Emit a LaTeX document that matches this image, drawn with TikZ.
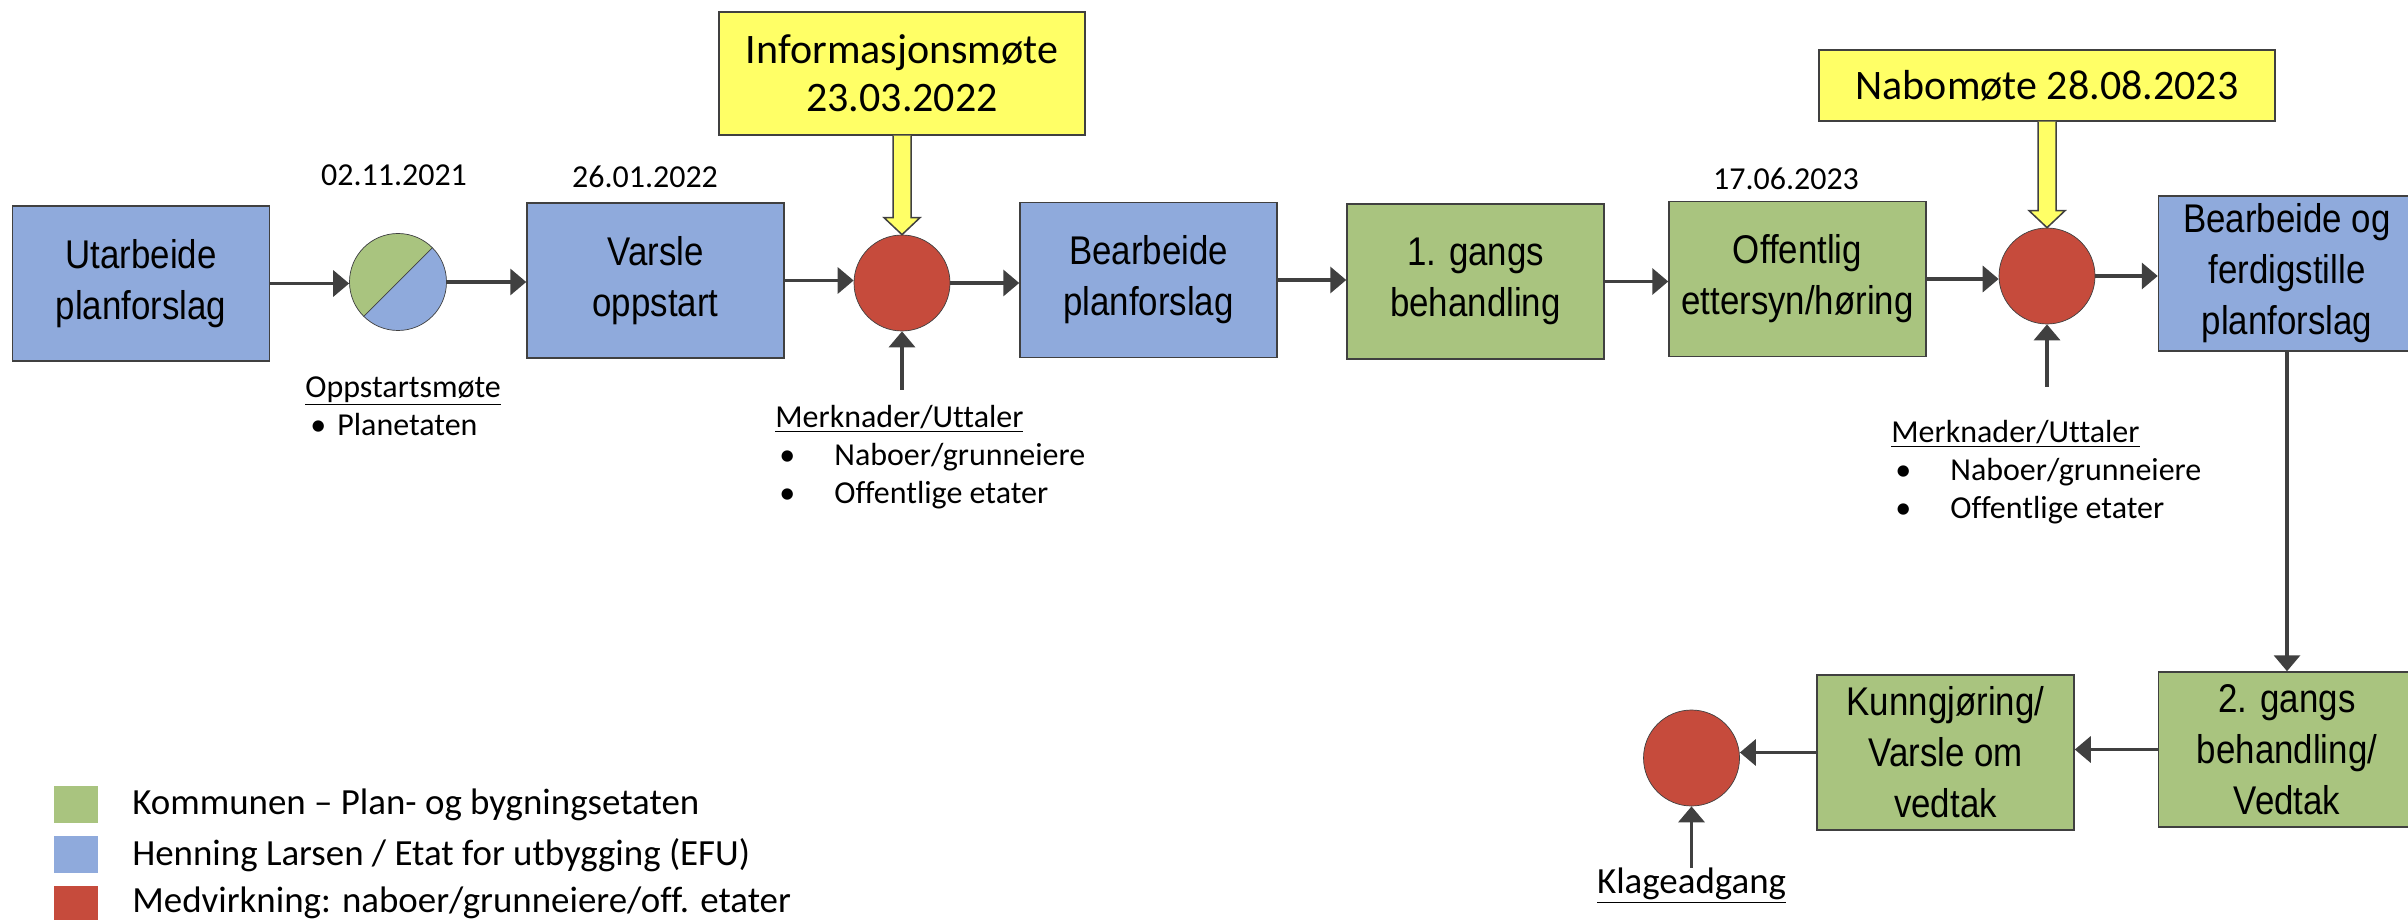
\documentclass[tikz,border=0pt]{standalone}
\usepackage{fontspec}
\setmainfont{Carlito}[Ligatures={TeX,NoCommon}]
\newfontfamily\boxfont[FakeStretch=0.87]{Liberation Sans}
\usetikzlibrary{arrows.meta,calc}
\definecolor{efuBlue}{HTML}{8FAADC}
\definecolor{pbeGreen}{HTML}{A9C47F}
\definecolor{medRed}{HTML}{C64B3C}
\definecolor{infoYellow}{HTML}{FFFF66}
\definecolor{lineGray}{HTML}{404040}
\begin{document}
\begin{tikzpicture}
        [box/.style={draw=lineGray, line width=0.03cm, minimum width=5.14cm, minimum height=3.1cm, align=center, font=\boxfont\fontsize{22.8}{29}\selectfont},
        blueBox/.style={box, fill=efuBlue},
        greenBox/.style={box, fill=pbeGreen},
        redDot/.style={circle, draw=lineGray, thin, fill=medRed, minimum size=1.92cm, inner sep=0pt},
        yBox/.style={draw=lineGray, line width=0.03cm, fill=infoYellow, align=center, font=\fontsize{23.9}{27.3}\selectfont},
        yArrow/.style={draw=lineGray, line width=0.03cm, fill=infoYellow},
        arr/.style={-{Triangle[length=0.32cm,width=0.52cm]}, line width=0.07cm, draw=lineGray},
        date/.style={font=\fontsize{18.2}{21.6}\selectfont},
        lbl/.style={font=\fontsize{18.2}{21.6}\selectfont, align=left, inner sep=0pt},
        legSq/.style={minimum width=0.87cm, minimum height=0.74cm, inner sep=0pt},
        legTxt/.style={font=\fontsize{21}{25}\selectfont, anchor=west, inner sep=0pt}]
        \useasboundingbox (0,0) rectangle (48.16,-18.4);

        % upper row
        \node[blueBox] (utarb) at (2.82,-5.67) {Utarbeide\\planforslag};
        \node[circle, draw=lineGray, thin, fill=efuBlue, minimum size=1.94cm, inner sep=0pt,
              path picture={\fill[pbeGreen] (path picture bounding box.north west) -- (path picture bounding box.north east) -- (path picture bounding box.south west) -- cycle;
                            \draw[lineGray, thin] (path picture bounding box.north east) -- (path picture bounding box.south west);}] (oppstart) at (7.96,-5.64) {};
        \node[blueBox] (varsle) at (13.11,-5.61) {Varsle\\oppstart};
        \node[redDot] (medA) at (18.04,-5.66) {};
        \node[blueBox] (bearb) at (22.97,-5.6) {Bearbeide\\planforslag};
        \node[greenBox] (gang1) at (29.51,-5.63) {1. gangs\\behandling};
        \node[greenBox] (offentlig) at (35.95,-5.58) {Offentlig\\ettersyn/høring};
        \node[redDot] (medB) at (40.94,-5.52) {};
        \node[blueBox] (ferdig) at (45.74,-5.47) {Bearbeide og\\ferdigstille\\planforslag};

        % meetings
        \node[yBox, minimum width=7.32cm, minimum height=2.46cm] (info) at (18.04,-1.47) {Informasjonsmøte\\23.03.2022};
        \node[yBox, minimum width=9.12cm, minimum height=1.42cm] (nabo) at (40.94,-1.71) {Nabomøte 28.08.2023};

        % lower row
        \node[greenBox] (gang2) at (45.74,-14.99) {2. gangs\\behandling/\\Vedtak};
        \node[greenBox] (kunngj) at (38.91,-15.05) {Kunngjøring/\\Varsle om\\vedtak};
        \node[redDot] (medC) at (33.83,-15.16) {};

        % dates and notes
        \node[date] (dato1) at (7.88,-3.5) {02.11.2021};
        \node[date] (dato2) at (12.9,-3.54) {26.01.2022};
        \node[date] (dato3) at (35.72,-3.58) {17.06.2023};
        \node[lbl, anchor=north west] (oppListe) at (6.1,-7.52) {\underline{Oppstartsmøte}\\\makebox[0.64cm][l]{\hspace{0.1cm}•}Planetaten};
        \node[lbl, anchor=north west] (merkA) at (15.5,-8.1) {\underline{Merknader/Uttaler}\\\makebox[1.18cm][l]{\hspace{0.08cm}•}Naboer/grunneiere\\\makebox[1.18cm][l]{\hspace{0.08cm}•}Offentlige etater};
        \node[lbl, anchor=north west] (merkB) at (37.82,-8.4) {\underline{Merknader/Uttaler}\\\makebox[1.18cm][l]{\hspace{0.08cm}•}Naboer/grunneiere\\\makebox[1.18cm][l]{\hspace{0.08cm}•}Offentlige etater};
        \node[lbl, font=\fontsize{21}{25}\selectfont] (klage) at (33.83,-17.72) {\underline{Klageadgang}};
        \coordinate (inA) at (18.04,-7.8);
        \coordinate (inB) at (40.94,-7.74);

        % legend
        \node[legSq, fill=pbeGreen] (legKommune) at (1.515,-16.09) {};
        \node[legTxt] (txtKommune) at (2.64,-16.1) {Kommunen – Plan- og bygningsetaten};
        \node[legSq, fill=efuBlue] (legEfu) at (1.515,-17.09) {};
        \node[legTxt] (txtEfu) at (2.64,-17.1) {Henning Larsen / Etat for utbygging (EFU)};
        \node[legSq, fill=medRed] (legMed) at (1.515,-18.09) {};
        \node[legTxt] (txtMed) at (2.64,-18.06) {Medvirkning: naboer/grunneiere/off. etater};

        % flow
        \draw[arr] (utarb) -- (utarb -| oppstart.west);
        \draw[arr] (oppstart) -- (oppstart -| varsle.west);
        \draw[arr] (varsle) -- (varsle -| medA.west);
        \draw[arr] (medA) -- (medA -| bearb.west);
        \draw[arr] (bearb) -- (bearb -| gang1.west);
        \draw[arr] (gang1) -- (gang1 -| offentlig.west);
        \draw[arr] (offentlig) -- (offentlig -| medB.west);
        \draw[arr] (medB) -- (medB -| ferdig.west);
        \draw[arr] (ferdig) -- (gang2);
        \draw[arr] (gang2) -- (gang2 -| kunngj.east);
        \draw[arr] (kunngj) -- (kunngj -| medC.east);
        \draw[arr] (inA) -- (medA);
        \draw[arr] (inB) -- (medB);
        \draw[arr] (klage) -- (medC);

        % yellow arrows
        \filldraw[yArrow] ($(info.south)+(-0.18,0)$) -- ($(medA.north)+(-0.18,0.34)$) -- ($(medA.north)+(-0.36,0.34)$) -- (medA.north)
            -- ($(medA.north)+(0.36,0.34)$) -- ($(medA.north)+(0.18,0.34)$) -- ($(info.south)+(0.18,0)$);
        \filldraw[yArrow] ($(nabo.south)+(-0.18,0)$) -- ($(medB.north)+(-0.18,0.34)$) -- ($(medB.north)+(-0.36,0.34)$) -- (medB.north)
            -- ($(medB.north)+(0.36,0.34)$) -- ($(medB.north)+(0.18,0.34)$) -- ($(nabo.south)+(0.18,0)$);
    
    \end{tikzpicture}
\end{document}
